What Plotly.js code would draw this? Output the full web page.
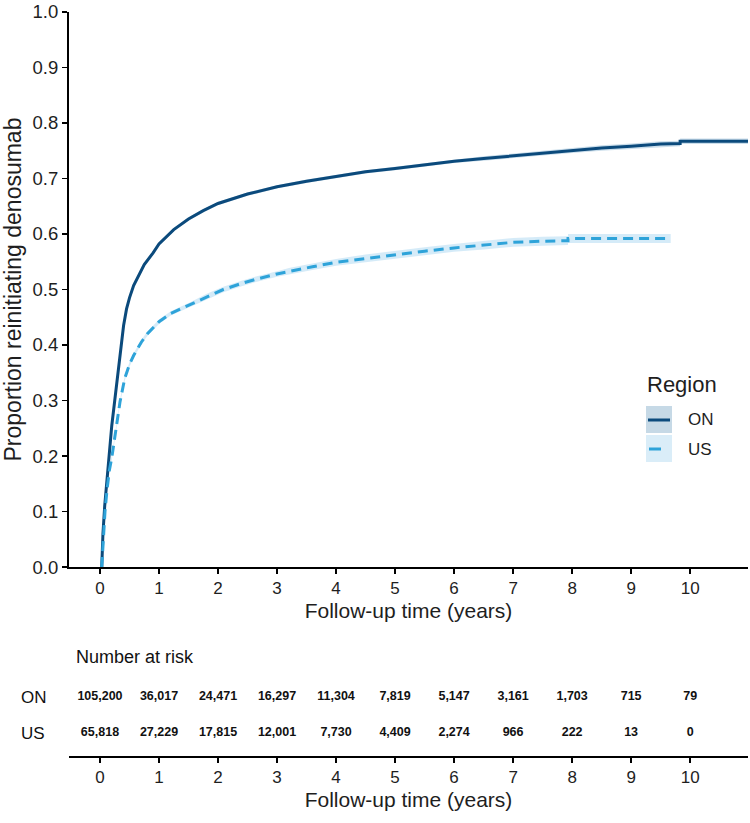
<!DOCTYPE html>
<html>
<head>
<meta charset="utf-8">
<script src="https://cdn.plot.ly/plotly-3.0.1.min.js"></script>
<style>html,body{margin:0;padding:0;background:#fff;}</style>
</head>
<body>
<div id="chart" style="width:750px;height:823px;"></div>
<script>
// ---- Data ----
const onTime = [0.03,0.05,0.08,0.11,0.15,0.2,0.25,0.3,0.35,0.4,0.45,0.5,0.57,0.65,0.75,0.9,1.0,1.25,1.5,1.75,2.0,2.5,3.0,3.5,4.0,4.5,5.0,5.5,6.0,6.5,7.0,7.5,8.0,8.5,9.0,9.5,9.83,9.83,10.98];
const onVal  = [0,0.06,0.11,0.15,0.20,0.255,0.30,0.345,0.395,0.435,0.465,0.485,0.507,0.525,0.545,0.566,0.582,0.608,0.627,0.642,0.655,0.672,0.685,0.695,0.704,0.712,0.718,0.725,0.731,0.736,0.741,0.746,0.751,0.755,0.758,0.762,0.763,0.767,0.767];
const onLo   = [0,0.057,0.107,0.147,0.197,0.252,0.297,0.342,0.392,0.432,0.462,0.482,0.504,0.522,0.542,0.563,0.579,0.605,0.624,0.639,0.652,0.669,0.682,0.692,0.701,0.709,0.715,0.722,0.728,0.732,0.737,0.742,0.746,0.750,0.753,0.757,0.758,0.762,0.762];
const onHi   = [0,0.063,0.113,0.153,0.203,0.258,0.303,0.348,0.398,0.438,0.468,0.488,0.510,0.528,0.548,0.569,0.585,0.611,0.630,0.645,0.658,0.675,0.688,0.698,0.707,0.715,0.721,0.728,0.734,0.740,0.745,0.750,0.756,0.760,0.763,0.767,0.768,0.772,0.772];

const usTime = [0.03,0.06,0.085,0.12,0.16,0.2,0.27,0.34,0.42,0.5,0.57,0.7,0.8,1.0,1.2,1.53,1.8,2.09,2.4,2.66,3.0,3.22,3.6,4.0,4.5,5.0,5.5,6.0,6.5,7.0,7.5,7.93,7.93,9.67];
const usVal  = [0,0.06,0.10,0.14,0.175,0.197,0.25,0.298,0.34,0.365,0.381,0.405,0.42,0.442,0.457,0.473,0.487,0.50,0.511,0.519,0.528,0.533,0.541,0.549,0.556,0.563,0.569,0.575,0.580,0.585,0.587,0.588,0.592,0.592];
const usLo   = [0,0.056,0.096,0.136,0.171,0.193,0.246,0.294,0.336,0.361,0.377,0.401,0.416,0.438,0.453,0.469,0.482,0.495,0.506,0.514,0.523,0.527,0.535,0.543,0.549,0.556,0.562,0.568,0.572,0.577,0.579,0.580,0.584,0.584];
const usHi   = [0,0.064,0.104,0.144,0.179,0.201,0.254,0.302,0.344,0.369,0.385,0.409,0.424,0.446,0.461,0.477,0.492,0.505,0.516,0.524,0.533,0.539,0.547,0.555,0.563,0.570,0.576,0.582,0.588,0.593,0.595,0.596,0.600,0.600];

const riskYears = [0,1,2,3,4,5,6,7,8,9,10];
const riskON = [105200,36017,24471,16297,11304,7819,5147,3161,1703,715,79];
const riskUS = [65818,27229,17815,12001,7730,4409,2274,966,222,13,0];
const regions = ["ON","US"];
const yTicks = [0,0.1,0.2,0.3,0.4,0.5,0.6,0.7,0.8,0.9,1.0];

// ---- Styles ----
const cON = '#0b4a7c', cUS = '#2ea3d9';
const bandON = 'rgba(160,195,218,0.55)', bandUS = 'rgba(190,224,245,0.65)';
const F = 'Liberation Sans, Arial, sans-serif';
const txt = '#1e1e1e';

const fmt = v => v.toLocaleString('en-US');

const traces = [
  {x: onTime, y: onLo, mode:'lines', line:{width:0, color:bandON}, hoverinfo:'skip', showlegend:false},
  {x: onTime, y: onHi, mode:'lines', line:{width:0, color:bandON}, fill:'tonexty', fillcolor:bandON, hoverinfo:'skip', showlegend:false},
  {x: usTime, y: usLo, mode:'lines', line:{width:0, color:bandUS}, hoverinfo:'skip', showlegend:false},
  {x: usTime, y: usHi, mode:'lines', line:{width:0, color:bandUS}, fill:'tonexty', fillcolor:bandUS, hoverinfo:'skip', showlegend:false},
  {x: onTime, y: onVal, mode:'lines', name: regions[0], line:{color:cON, width:3}, showlegend:false},
  {x: usTime, y: usVal, mode:'lines', name: regions[1], line:{color:cUS, width:3, dash:'10px,6px'}, showlegend:false},
  {x: riskYears, y: riskYears.map(() => 1), xaxis:'x2', yaxis:'y2', mode:'text', text: riskON.map(fmt),
   textfont:{family:F, size:12.5, color:'#111', weight:'bold'}, hoverinfo:'skip', showlegend:false},
  {x: riskYears, y: riskYears.map(() => 0), xaxis:'x2', yaxis:'y2', mode:'text', text: riskUS.map(fmt),
   textfont:{family:F, size:12.5, color:'#111', weight:'bold'}, hoverinfo:'skip', showlegend:false}
];

// pixel -> paper helpers (plot area: x 69..748, y 12..756)
const px = p => (p - 69) / 679;
const py = p => (756 - p) / 744;

const axisCommon = {
  range:[-0.525, 10.98], tickvals: riskYears, ticks:'outside', ticklen:5, tickwidth:1.5, tickcolor:'#000',
  showline:true, linecolor:'#000', linewidth:2, showgrid:false, zeroline:false,
  tickfont:{family:F, size:17, color:txt}
};

const layout = {
  width:750, height:823,
  margin:{l:69, r:2, t:12, b:67},
  paper_bgcolor:'#fff', plot_bgcolor:'rgba(0,0,0,0)',
  showlegend:false,
  xaxis: Object.assign({}, axisCommon, {anchor:'y',
    title:{text:'Follow-up time (years)', font:{family:F, size:21, color:txt}, standoff:6}}),
  yaxis: {domain:[0.2540, 1], range:[0, 1.0], tickvals: yTicks, tickformat:'.1f', ticklabeloverflow:'allow',
    ticks:'outside', ticklen:5, tickwidth:1.5, tickcolor:'#000', showline:true, linecolor:'#000', linewidth:2,
    showgrid:false, zeroline:false, tickfont:{family:F, size:18.5, color:txt},
    title:{text:'Proportion reinitiating denosumab', font:{family:F, size:23, color:txt}, standoff:7}},
  xaxis2: Object.assign({}, axisCommon, {anchor:'y2',
    title:{text:'Follow-up time (years)', font:{family:F, size:21, color:txt}, standoff:6}}),
  yaxis2: {domain:[0, 0.1559], range:[-0.639, 2.583], visible:false, fixedrange:true},
  shapes: [
    {type:'rect', xref:'paper', yref:'paper', x0:px(646), x1:px(672), y0:py(406), y1:py(433), fillcolor:'#c6d9e6', line:{width:0}},
    {type:'line', xref:'paper', yref:'paper', x0:px(648), x1:px(670), y0:py(420), y1:py(420), line:{color:cON, width:3}},
    {type:'rect', xref:'paper', yref:'paper', x0:px(646), x1:px(672), y0:py(435), y1:py(462), fillcolor:'#daedf8', line:{width:0}},
    {type:'line', xref:'paper', yref:'paper', x0:px(649), x1:px(661), y0:py(449), y1:py(449), line:{color:cUS, width:3}}
  ],
  annotations: [
    {xref:'paper', yref:'paper', x:px(645), y:py(384), xanchor:'left', yanchor:'middle', showarrow:false,
     text:'Region', font:{family:F, size:22, color:txt}},
    {xref:'paper', yref:'paper', x:px(686), y:py(420), xanchor:'left', yanchor:'middle', showarrow:false,
     text:regions[0], font:{family:F, size:17, color:txt}},
    {xref:'paper', yref:'paper', x:px(686), y:py(449), xanchor:'left', yanchor:'middle', showarrow:false,
     text:regions[1], font:{family:F, size:17, color:txt}},
    {xref:'paper', yref:'paper', x:px(74), y:py(657), xanchor:'left', yanchor:'middle', showarrow:false,
     text:'Number at risk', font:{family:F, size:18, color:'#111'}},
    {xref:'paper', yref:'y2', x:px(19), y:1, xanchor:'left', yanchor:'middle', showarrow:false,
     text:regions[0], font:{family:F, size:17, color:'#111'}},
    {xref:'paper', yref:'y2', x:px(19), y:0, xanchor:'left', yanchor:'middle', showarrow:false,
     text:regions[1], font:{family:F, size:17, color:'#111'}}
  ]
};

Plotly.newPlot('chart', traces, layout, {displayModeBar:false, staticPlot:true});
</script>
</body>
</html>
